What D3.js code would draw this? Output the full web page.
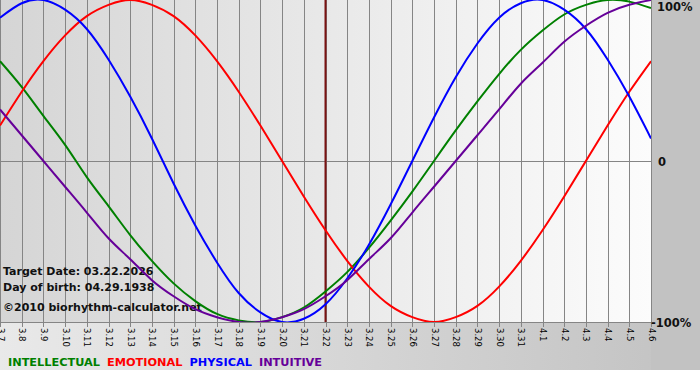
<!DOCTYPE html>
<html>
<head>
<meta charset="utf-8">
<script src="https://cdn.jsdelivr.net/npm/d3@7"></script>
<style>
  body { margin: 0; background: #fff; }
  svg { display: block; font-family: "DejaVu Sans", Verdana, sans-serif; }
</style>
</head>
<body>
<svg></svg>
<script>
// days shown on the x axis
let days = ["3.7","3.8","3.9","3.10","3.11","3.12","3.13","3.14","3.15","3.16","3.17","3.18","3.19","3.20",
    "3.21","3.22","3.23","3.24","3.25","3.26","3.27","3.28","3.29","3.30","3.31","4.1","4.2","4.3","4.4","4.5","4.6"];
let targetDay = "3.22";

// cycle values in percent, one per day
let intellectual = [62,46,28,10,-10,-28,-46,-62,-76,-87,-95,-99,-100,-97,-91,-81,-69,-54,-37,-19,0,19,37,54,69,81,91,97,100,99,95];
let emotional = [22,43,62,78,90,97,100,97,90,78,62,43,22,0,-22,-43,-62,-78,-90,-97,-100,-97,-90,-78,-62,-43,-22,0,22,43,62];
let physical = [89,98,100,94,82,63,40,14,-14,-40,-63,-82,-94,-100,-98,-89,-73,-52,-27,0,27,52,73,89,98,100,94,82,63,40,14];
let intuitive = [32,16,0,-16,-32,-48,-61,-74,-84,-92,-97,-100,-100,-97,-92,-84,-74,-61,-48,-32,-16,0,16,32,48,61,74,84,92,97,100];

let yTicks = [100, 0, -100];
let yTickLabels = ["100%", "0", "-100%"];
let infoLines = ["Target Date: 03.22.2026", "Day of birth: 04.29.1938", "\u00a92010 biorhythm-calculator.net"];

let series = [
    { name: "INTELLECTUAL", values: intellectual, color: "#008000" },
    { name: "EMOTIONAL", values: emotional, color: "#ff0000" },
    { name: "PHYSICAL", values: physical, color: "#0000ff" },
    { name: "INTUITIVE", values: intuitive, color: "#660099" }
];

drawChart();

function drawChart() {
    let svgWidth = 700, svgHeight = 380;
    let plotW = 651, plotH = 322;

    let svg = d3.select("svg")
        .attr("width", svgWidth)
        .attr("height", svgHeight);

    let defs = svg.append("defs");
    let g1 = defs.append("linearGradient").attr("id", "plotBg");
    g1.append("stop").attr("offset", "0%").attr("stop-color", "#d5d5d5");
    g1.append("stop").attr("offset", "100%").attr("stop-color", "#fcfcfc");
    let g2 = defs.append("linearGradient").attr("id", "bandBg");
    g2.append("stop").attr("offset", "0%").attr("stop-color", "#e9e9e9");
    g2.append("stop").attr("offset", "100%").attr("stop-color", "#c2c2c2");
    defs.append("clipPath").attr("id", "plotClip")
        .append("rect").attr("width", plotW).attr("height", plotH);

    // frame backgrounds
    svg.append("rect").attr("x", 0).attr("y", plotH).attr("width", svgWidth).attr("height", 48)
        .attr("fill", "url(#bandBg)");
    svg.append("rect").attr("x", plotW).attr("y", 0).attr("width", svgWidth - plotW).attr("height", 370)
        .attr("fill", "#c2c2c2");
    svg.append("rect").attr("width", plotW).attr("height", plotH).attr("fill", "url(#plotBg)");

    let x = d3.scalePoint().domain(days).range([0, plotW]);
    let y = d3.scaleLinear().domain([-100, 100]).range([plotH, 0]);

    // vertical grid
    let grid = svg.append("g")
        .attr("transform", "translate(0," + plotH + ")")
        .call(d3.axisBottom(x).tickSize(-plotH).tickFormat(""));
    grid.select(".domain").remove();
    grid.selectAll(".tick line").attr("stroke", "#858585").attr("shape-rendering", "crispEdges");

    // horizontal zero line
    svg.append("line")
        .attr("x1", 0).attr("x2", plotW)
        .attr("y1", y(0)).attr("y2", y(0))
        .attr("stroke", "#858585").attr("shape-rendering", "crispEdges");

    // bottom axis with rotated labels
    let xAxis = svg.append("g")
        .attr("transform", "translate(0," + plotH + ")")
        .call(d3.axisBottom(x).tickSize(5).tickPadding(2));
    xAxis.select(".domain").attr("stroke", "#858585");
    xAxis.selectAll(".tick line").attr("stroke", "#858585").attr("shape-rendering", "crispEdges");
    xAxis.selectAll(".tick text")
        .attr("font-family", "DejaVu Sans")
        .attr("font-size", 8.5)
        .attr("fill", "#000")
        .attr("text-anchor", "start")
        .attr("transform", "rotate(90)")
        .attr("x", 6)
        .attr("y", 0)
        .attr("dy", "0.35em");

    // right axis labels
    let yAxis = svg.append("g")
        .attr("transform", "translate(" + plotW + ",0)")
        .call(d3.axisRight(y).tickValues(yTicks).tickSize(0).tickPadding(4)
            .tickFormat(function (d, i) { return yTickLabels[i] }));
    yAxis.select(".domain").remove();
    yAxis.selectAll(".tick text")
        .attr("font-family", "DejaVu Sans")
        .attr("font-weight", "bold")
        .attr("font-size", 11.5)
        .attr("fill", "#111")
        .attr("text-anchor", "start")
        .attr("x", function (d) { return d === 100 ? 6 : (d === 0 ? 7 : 0) })
        .attr("dy", function (d) { return d === 100 ? "0.95em" : "0.35em" });

    // info text
    svg.append("g").selectAll("text")
        .data(infoLines)
        .join("text")
        .attr("x", 3)
        .attr("y", function (d, i) { return [275, 291, 311][i] })
        .attr("font-size", 11)
        .attr("font-weight", "bold")
        .attr("fill", "#111")
        .text(function (d) { return d });

    // curves
    let plot = svg.append("g").attr("clip-path", "url(#plotClip)");
    let line = d3.line()
        .x(function (d, i) { return x(days[i]) })
        .y(function (d) { return y(d) })
        .curve(d3.curveNatural);

    // target day line
    plot.append("line")
        .attr("x1", x(targetDay)).attr("x2", x(targetDay))
        .attr("y1", 0).attr("y2", plotH)
        .attr("stroke", "#7a1212").attr("stroke-width", 2);

    series.forEach(function (s) {
        plot.append("path")
            .datum(s.values)
            .attr("fill", "none")
            .attr("stroke", s.color)
            .attr("stroke-width", 2)
            .attr("stroke-linejoin", "round")
            .attr("d", line);
    });

    // legend
    let legend = svg.append("text")
        .attr("x", 8)
        .attr("y", 366)
        .attr("font-size", 11.3)
        .attr("font-weight", "bold");
    series.forEach(function (s, i) {
        legend.append("tspan")
            .attr("fill", s.color)
            .attr("dx", i === 0 ? 0 : 7)
            .text(s.name);
    });
}
</script>
</body>
</html>
